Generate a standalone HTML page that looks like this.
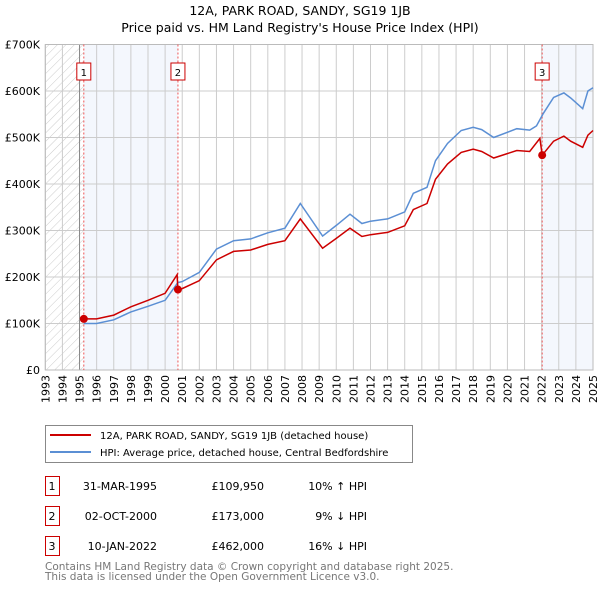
<!DOCTYPE html>
<html><head><meta charset="utf-8"><style>
body{margin:0;background:#fff;font-family:"DejaVu Sans","Liberation Sans",sans-serif}
svg{display:block}
</style></head><body>
<svg id="c" width="600" height="590" xmlns="http://www.w3.org/2000/svg" font-family="DejaVu Sans, Liberation Sans, sans-serif">
<defs><pattern id="hatch" width="6" height="6" patternUnits="userSpaceOnUse" patternTransform="rotate(45)"><line x1="0" y1="0" x2="0" y2="6" stroke="#ccc" stroke-width="1"/></pattern></defs>
<text x="300" y="15" text-anchor="middle" font-size="12.5" fill="#000">12A, PARK ROAD, SANDY, SG19 1JB</text>
<text x="300" y="32" text-anchor="middle" font-size="12.5" fill="#000">Price paid vs. HM Land Registry's House Price Index (HPI)</text>
<g id="plot"></g>
<g>
<rect x="45.5" y="425.5" width="367" height="37" fill="#fff" stroke="#888"/>
<line x1="50" y1="435" x2="91" y2="435" stroke="#cc0000" stroke-width="2"/>
<text x="100" y="439" font-size="10">12A, PARK ROAD, SANDY, SG19 1JB (detached house)</text>
<line x1="50" y1="452" x2="91" y2="452" stroke="#5b8fd4" stroke-width="2"/>
<text x="100" y="456" font-size="10">HPI: Average price, detached house, Central Bedfordshire</text>
</g>
<g id="table" font-size="11"></g>
<text x="45" y="570" font-size="10.5" fill="#777">Contains HM Land Registry data © Crown copyright and database right 2025.</text>
<text x="45" y="580" font-size="10.5" fill="#777">This data is licensed under the Open Government Licence v3.0.</text>
</svg>
<script>
const hpiYears=[1995.25,1996,1997,1998,1999,2000,2000.75,2001,2002,2003,2004,2005,2006,2007,2007.9,2009.2,2010,2010.8,2011.5,2012,2013,2014,2014.5,2015.3,2015.8,2016.5,2017.3,2018,2018.5,2019.2,2020.55,2021.3,2021.7,2022.1,2022.7,2023.3,2023.7,2024.4,2024.7,2025];
const hpiValues=[100,100,108,125,137,150,188,190,210,260,278,282,295,305,358,288,311,335,315,320,325,340,380,393,450,487,515,522,517,500,519,516,525,552,586,596,585,562,600,607];
const priceYears=[1995.1,1995.25,1996,1997,1998,1999,2000,2000.7,2000.75,2001,2002,2003,2004,2005,2006,2007,2007.9,2009.2,2010,2010.8,2011.5,2012,2013,2014,2014.5,2015.3,2015.8,2016.5,2017.3,2018,2018.5,2019.2,2020.55,2021.3,2021.9,2022.03,2022.7,2023.3,2023.7,2024.4,2024.7,2025];
const priceValues=[110,110,110,118,136,150,165,205,173,175,192,237,255,258,270,278,325,262,283,305,287,291,296,310,345,358,410,443,468,475,470,456,472,470,498,462,492,503,492,479,505,515];
const saleYears=[1995.25,2000.75,2022.03];
const salePrices=[109950,173000,462000];
const saleDates=["31-MAR-1995","02-OCT-2000","10-JAN-2022"];
const saleLabels=["£109,950","£173,000","£462,000"];
const saleDiffs=["10% ↑ HPI","9% ↓ HPI","16% ↓ HPI"];
const yTicks=[0,100,200,300,400,500,600,700];
const yTickLabels=["£0","£100K","£200K","£300K","£400K","£500K","£600K","£700K"];
const xTicks=[];for(let y=1993;y<=2025;y++)xTicks.push(y);

const X0=45.3,X1=593,Y0=370,Y1=44.5;
const xs=y=>X0+(y-1993)/(2025-1993)*(X1-X0);
const ys=v=>Y0-v/700*(Y0-Y1);
const NS="http://www.w3.org/2000/svg";
const plot=document.getElementById('plot');
function mk(tag,attrs,parent){const e=document.createElementNS(NS,tag);for(const k in attrs)e.setAttribute(k,attrs[k]);(parent||plot).appendChild(e);return e;}

let r=mk('rect',{x:X0,y:Y1,width:xs(1995.25)-X0,height:Y0-Y1,fill:'url(#hatch)'});


r=mk('rect',{x:xs(saleYears[0]),y:Y1,width:xs(saleYears[1])-xs(saleYears[0]),height:Y0-Y1,fill:'#f4f7fd'});


r=mk('rect',{x:xs(saleYears[2]),y:Y1,width:X1-xs(saleYears[2]),height:Y0-Y1,fill:'#f4f7fd'});



xTicks.forEach(t=>{
 const l=mk('line',{x1:xs(t),x2:xs(t),y1:Y1,y2:Y0,stroke:'#ccc','stroke-width':1});
 
 
 const tx=mk('text',{x:0,y:0,'font-size':11,'text-anchor':'end',transform:`translate(${xs(t)+4},${Y0+5}) rotate(-90)`});
 tx.textContent=t;
 
 
});
yTicks.forEach((t,i)=>{
 const l=mk('line',{x1:X0,x2:X1,y1:ys(t),y2:ys(t),stroke:'#ccc','stroke-width':1});
 
 
 const tx=mk('text',{x:40,y:ys(t)+4,'font-size':11,'text-anchor':'end'});
 tx.textContent=yTickLabels[i];
 
 
});
let dl=mk('line',{x1:xs(1995),x2:xs(1995),y1:Y1,y2:Y0,stroke:'#888','stroke-width':1});


r=mk('rect',{x:X0,y:Y1,width:X1-X0,height:Y0-Y1,fill:'none',stroke:'#bbb'});



saleYears.forEach((s,i)=>{
 const l=mk('line',{x1:xs(s),x2:xs(s),y1:Y1,y2:Y0,stroke:'#e55','stroke-width':1,'stroke-dasharray':'2,2'});
 
 
 const b=mk('rect',{x:xs(s)-7,y:63,width:14,height:17,fill:'#fff',stroke:'#cc0000'});
 
 
 const t=mk('text',{x:xs(s),y:76,'font-size':10,'text-anchor':'middle'});
 t.textContent=i+1;
 
 
});

const path=(ya,va)=>ya.map((y,i)=>(i?'L':'M')+xs(y).toFixed(1)+','+ys(va[i]).toFixed(1)).join(' ');
let p=mk('path',{d:path(hpiYears,hpiValues),fill:'none',stroke:'#5b8fd4','stroke-width':1.5});


p=mk('path',{d:path(priceYears,priceValues),fill:'none',stroke:'#cc0000','stroke-width':1.5});


saleYears.forEach((s,i)=>{
 const c=mk('circle',{cx:xs(s),cy:ys(salePrices[i]/1000),r:4,fill:'#cc0000'});
 
 
});

const tb=document.getElementById('table');
saleDates.forEach((d,i)=>{
 const y=476+i*30;
 const b=mk('rect',{x:45.5,y:y+0.5,width:14,height:19,fill:'#fff',stroke:'#cc0000'},tb);
 
 
 const vals=[[i+1,52,'middle'],[d,157,'end'],[saleLabels[i],264,'end'],[saleDiffs[i],367,'end']];
 const names=['table-row-number','table-sale-date','table-sale-price','table-hpi-diff'];
 vals.forEach((v,j)=>{
  const t=mk('text',{x:v[1],y:y+14,'font-size':11,'text-anchor':v[2]},tb);
  t.textContent=v[0];
  
  
 });
});
</script>
</body></html>
